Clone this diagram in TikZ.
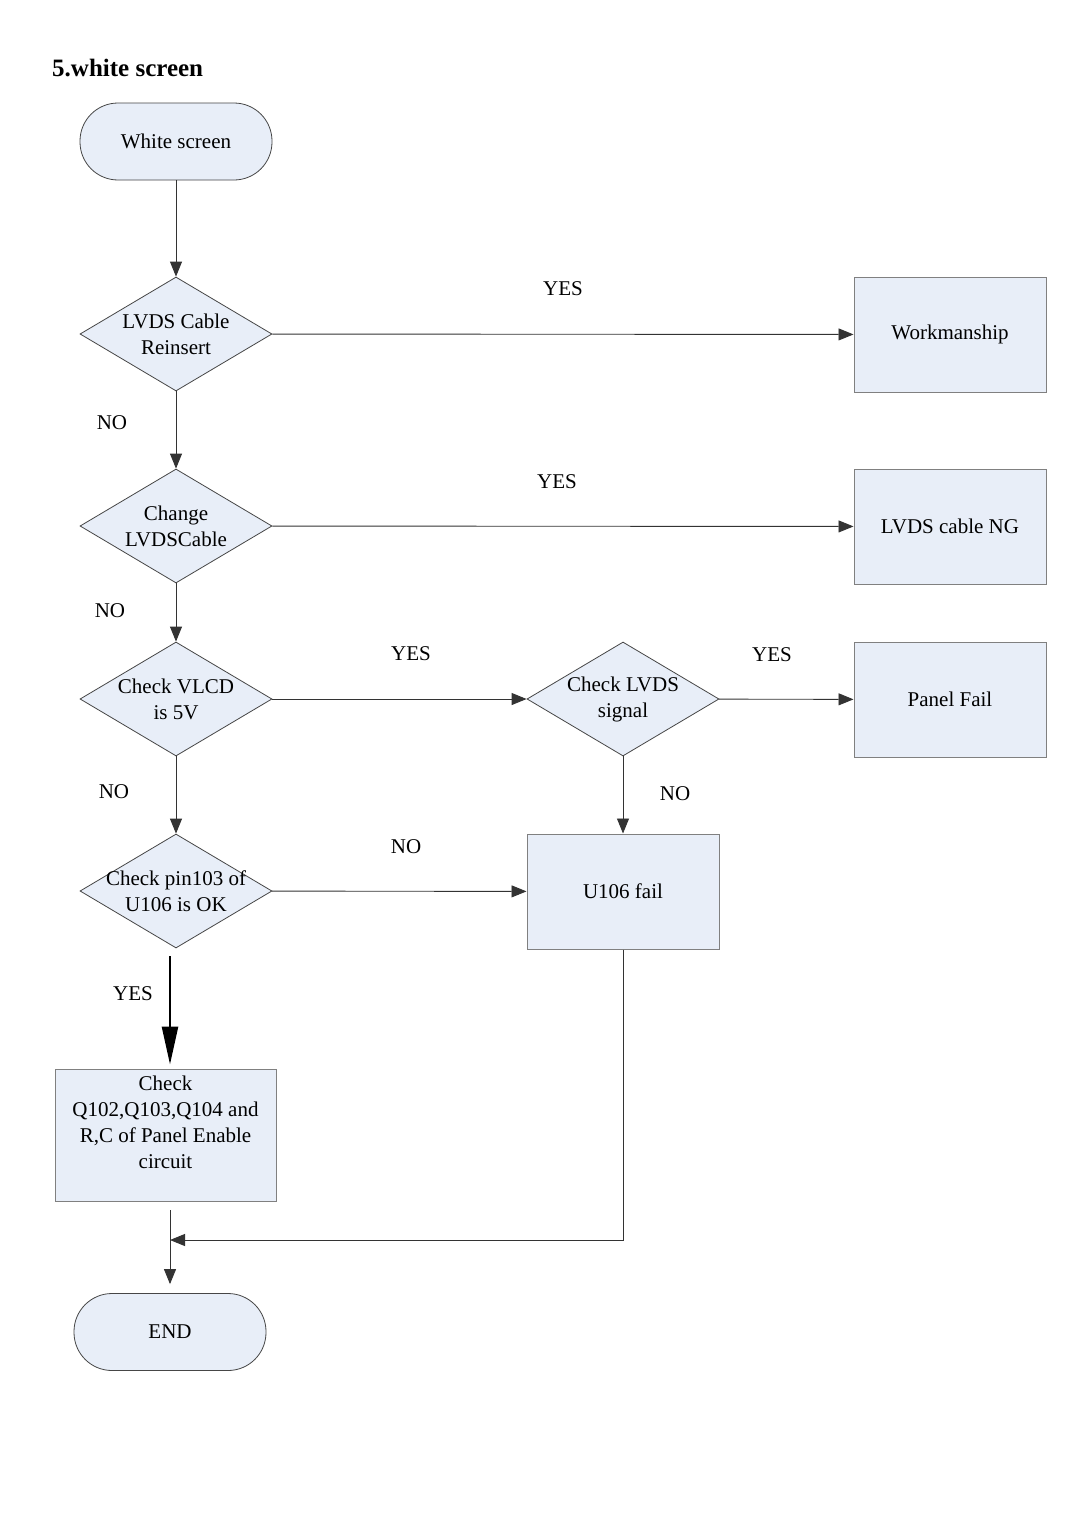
\documentclass[tikz,border=0pt]{standalone}
\usepackage{fontspec}
\setmainfont{Liberation Serif}
\usetikzlibrary{shapes.geometric,arrows.meta,calc}
\definecolor{boxfill}{RGB}{232,238,248}
\definecolor{edge}{RGB}{70,70,70}
\begin{document}
\begin{tikzpicture}[x=1pt,y=-1pt,
 every node/.style={font=\fontsize{21}{26}\selectfont},
 term/.style={draw=edge,fill=boxfill,rounded corners=38pt,minimum width=192pt,minimum height=77pt,inner sep=0pt,line width=0.8pt},
 dec/.style={draw=edge,fill=boxfill,diamond,minimum width=192pt,minimum height=114pt,inner sep=0pt,line width=0.8pt},
 proc/.style={draw=black!50,fill=boxfill,minimum width=192pt,minimum height=115pt,inner sep=0pt,line width=1pt},
 conn/.style={draw=black!80,line width=0.9pt,-{Triangle[length=15pt,width=12pt]}},
 lbl/.style={inner sep=0pt},
 txt/.style={align=center,inner sep=0pt}
]
\useasboundingbox[fill=white] (0,0) rectangle (1080,1528);

\node[anchor=base west,inner sep=0pt,font=\fontsize{25}{30}\selectfont\bfseries] (title) at (52,76) {5.white screen};

\node[term] (start) at (176,141.5) {White screen};
\node[dec,label={[txt]center:LVDS Cable\\Reinsert}] (d1) at (176,334) {};
\node[dec,label={[txt]center:Change\\LVDSCable}] (d2) at (176,526) {};
\node[dec,label={[txt]center:Check VLCD\\is 5V}] (d3) at (176,699) {};
\node[dec,label={[txt]center:Check LVDS\\signal}] (d4) at (623,699) {};
\node[dec,label={[txt]center:Check pin103 of\\U106 is OK}] (d5) at (176,891) {};

\node[proc] (work) at (950,334.5) {Workmanship};
\node[proc] (ng) at (950,526.5) {LVDS cable NG};
\node[proc] (panel) at (950,699.5) {Panel Fail};
\node[proc] (u106) at (623,891.5) {U106 fail};
\node[proc,minimum width=221pt,minimum height=132pt] (chk) at (165.5,1135) {};
\node[txt] (chktxt) at (165.5,1122) {Check\\Q102,Q103,Q104 and\\R,C of Panel Enable\\circuit};
\node[term] (endn) at (170,1332) {END};

\draw[conn] (start) -- (d1);
\draw[conn] (d1) -- (work);
\draw[conn] (d1) -- (d2);
\draw[conn] (d2) -- (ng);
\draw[conn] (d2) -- (d3);
\draw[conn] (d3) -- (d4);
\draw[conn] (d4) -- (panel);
\draw[conn] (d4) -- (u106);
\draw[conn] (d3) -- (d5);
\draw[conn] (d5) -- (u106);

\coordinate (ys) at (170,956);
\draw[line width=2.6pt,-{Triangle[length=38pt,width=16pt]},shorten >=4pt] (ys) -- (ys |- chk.north);

\coordinate (b1) at (170,1210);
\coordinate (merge) at (170,1240);
\draw[conn,shorten >=9pt] (b1) -- (endn.north);
\draw[conn] (u106.south) |- (merge);

\node[lbl] (l1) at (563,289) {YES};
\node[lbl] (l2) at (112,423) {NO};
\node[lbl] (l3) at (557,482) {YES};
\node[lbl] (l4) at (110,611) {NO};
\node[lbl] (l5) at (411,654) {YES};
\node[lbl] (l6) at (772,655) {YES};
\node[lbl] (l7) at (675,794) {NO};
\node[lbl] (l8) at (114,792) {NO};
\node[lbl] (l9) at (406,847) {NO};
\node[lbl] (l10) at (133,994) {YES};
\end{tikzpicture}
\end{document}
